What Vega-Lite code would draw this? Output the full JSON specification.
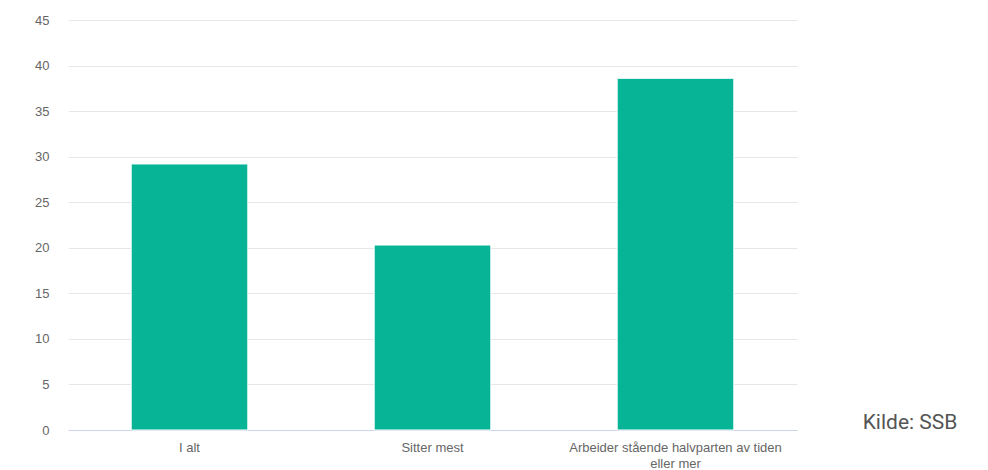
{
  "$schema": "https://vega.github.io/schema/vega-lite/v6.json",
  "width": 729,
  "height": 410,
  "autosize": {"type": "none"},
  "padding": {"left": 68, "top": 20, "right": 191, "bottom": 40},
  "background": "white",
  "title": {
    "text": "Kilde: SSB",
    "orient": "right",
    "anchor": "end",
    "angle": 0,
    "align": "left",
    "baseline": "alphabetic",
    "offset": 65,
    "dx": -94,
    "dy": -41,
    "font": "Roboto",
    "fontSize": 21,
    "fontWeight": "normal",
    "color": "#555555"
  },
  "data": {
    "values": [
      {"kategori": "I alt", "verdi": 29.2},
      {"kategori": "Sitter mest", "verdi": 20.3},
      {"kategori": "Arbeider stående halvparten av tiden eller mer", "verdi": 38.6}
    ]
  },
  "mark": {"type": "bar", "color": "#07b596", "stroke": "white", "strokeWidth": 1},
  "encoding": {
    "x": {
      "field": "kategori",
      "type": "nominal",
      "sort": null,
      "scale": {"paddingInner": 0.52, "paddingOuter": 0.26},
      "axis": {
        "title": null,
        "labelAngle": 0,
        "ticks": false,
        "domainColor": "#ccd6eb",
        "domainWidth": 1,
        "labelColor": "#666666",
        "labelFont": "Liberation Sans",
        "labelFontSize": 13,
        "labelPadding": 11,
        "labelLimit": 0,
        "labelLineHeight": 16,
        "labelBaseline": "top",
        "labelExpr": "datum.label == 'Arbeider stående halvparten av tiden eller mer' ? ['Arbeider stående halvparten av tiden', 'eller mer'] : datum.label"
      }
    },
    "y": {
      "field": "verdi",
      "type": "quantitative",
      "scale": {"domain": [0, 45]},
      "axis": {
        "title": null,
        "values": [0, 5, 10, 15, 20, 25, 30, 35, 40, 45],
        "domain": false,
        "ticks": false,
        "gridColor": "#e6e6e6",
        "gridWidth": 1,
        "labelColor": "#666666",
        "labelFont": "Liberation Sans",
        "labelFontSize": 13,
        "labelPadding": 19
      }
    }
  },
  "config": {"view": {"stroke": null}}
}
